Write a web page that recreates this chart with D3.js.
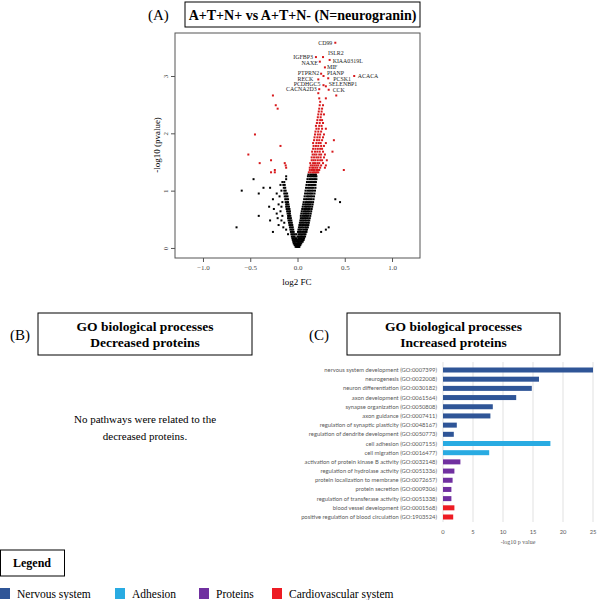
<!DOCTYPE html>
<html>
<head>
<meta charset="utf-8">
<script src="https://cdn.jsdelivr.net/npm/d3@7"></script>
<style>
  body { margin: 0; background: #fff; }
  svg { display: block; }
</style>
</head>
<body>
<div id="chart"></div>
<script>
// ---- volcano data (log2 FC, -log10 p) ----
// non-significant points, grouped by -log10 p row
const blackRows = [
  [0.02, [-0.02, -0.01, 0, 0.005, 0.01, 0.02, -0.005, 0.015]],
  [0.05, [-0.03, -0.02, -0.01, 0, 0.01, 0.02, 0.03, 0.015, -0.015]],
  [0.08, [-0.04, -0.025, -0.01, 0.005, 0.02, 0.03, 0.04, -0.035, 0.012]],
  [0.11, [-0.045, -0.03, -0.015, 0, 0.015, 0.03, 0.045, 0.055, 0.008]],
  [0.14, [-0.05, -0.035, -0.02, -0.005, 0.01, 0.025, 0.04, 0.055, 0.065]],
  [0.17, [-0.055, -0.04, -0.025, -0.01, 0.01, 0.03, 0.045, 0.06, 0.07, 0.02]],
  [0.20, [-0.06, -0.045, -0.03, 0, 0.015, 0.03, 0.05, 0.065, 0.08, 0.04]],
  [0.24, [-0.065, -0.05, -0.035, -0.015, 0.01, 0.025, 0.04, 0.055, 0.07, 0.085, -0.1]],
  [0.28, [-0.07, -0.055, -0.04, 0.005, 0.02, 0.035, 0.05, 0.065, 0.08, 0.095, 0.25, -0.26]],
  [0.32, [-0.075, -0.06, -0.045, 0.01, 0.025, 0.04, 0.06, 0.075, 0.09, 0.1, 0.3, -0.12]],
  [0.36, [-0.08, -0.065, -0.05, 0.015, 0.03, 0.045, 0.06, 0.08, 0.095, 0.11, -0.15, 0.33, -0.645]],
  [0.40, [-0.085, -0.07, -0.055, 0.02, 0.035, 0.05, 0.065, 0.08, 0.1, 0.115, -0.2]],
  [0.44, [-0.09, -0.075, -0.06, 0.025, 0.04, 0.055, 0.07, 0.09, 0.105, 0.12, -0.14]],
  [0.48, [-0.095, -0.08, -0.065, 0.03, 0.045, 0.06, 0.075, 0.09, 0.11, 0.125, -0.29, -0.17]],
  [0.52, [-0.1, -0.085, -0.07, 0.035, 0.05, 0.065, 0.08, 0.095, 0.11, 0.13, -0.21]],
  [0.56, [-0.1, -0.09, -0.075, 0.035, 0.055, 0.07, 0.085, 0.1, 0.115, 0.135, -0.41, -0.16]],
  [0.60, [-0.105, -0.09, -0.08, 0.04, 0.06, 0.075, 0.09, 0.105, 0.12, 0.14, -0.22]],
  [0.64, [-0.11, -0.095, -0.08, 0.045, 0.065, 0.08, 0.095, 0.11, 0.125, 0.145, -0.18]],
  [0.68, [-0.115, -0.1, -0.085, 0.05, 0.07, 0.085, 0.1, 0.115, 0.13, 0.15, -0.25]],
  [0.72, [-0.12, -0.105, -0.09, 0.055, 0.075, 0.09, 0.105, 0.12, 0.135, 0.155, -0.3, -0.17]],
  [0.76, [-0.12, -0.11, -0.095, 0.06, 0.08, 0.095, 0.11, 0.125, 0.14, 0.16, -0.2]],
  [0.80, [-0.125, -0.11, -0.1, 0.065, 0.085, 0.1, 0.115, 0.13, 0.145, 0.165, 0.45, -0.16]],
  [0.85, [-0.13, -0.115, -0.1, 0.07, 0.09, 0.105, 0.12, 0.135, 0.15, 0.17, -0.26, 0.4]],
  [0.90, [-0.135, -0.12, -0.105, 0.075, 0.095, 0.11, 0.125, 0.14, 0.155, 0.175, -0.19]],
  [0.95, [-0.14, -0.125, -0.11, 0.08, 0.1, 0.115, 0.13, 0.145, 0.16, 0.18, -0.22, -0.41]],
  [1.00, [-0.14, -0.125, 0.085, 0.105, 0.12, 0.135, 0.15, 0.165, 0.185, -0.59, -0.17]],
  [1.05, [-0.145, -0.13, 0.09, 0.11, 0.125, 0.14, 0.155, 0.17, 0.19, -0.29, -0.36]],
  [1.10, [-0.15, -0.135, 0.095, 0.115, 0.13, 0.145, 0.16, 0.175, 0.19, -0.18]],
  [1.15, [-0.14, 0.1, 0.12, 0.135, 0.15, 0.165, 0.18, 0.195, -0.16]],
  [1.20, [-0.12, 0.105, 0.125, 0.14, 0.155, 0.17, 0.185, 0.2, -0.465]],
  [1.25, [-0.12, 0.11, 0.13, 0.145, 0.16, 0.175, 0.19, 0.2]],
  [1.28, [0.115, 0.135, 0.15, 0.165, 0.18, 0.195]]
];

// significant points (p < 0.05)
const redRows = [
  [1.32, [0.12, 0.14, 0.16, 0.175, 0.19, 0.205, 0.22, -0.28, -0.24]],
  [1.36, [0.13, 0.15, 0.165, 0.18, 0.2, 0.215, 0.23, 0.49, -0.24]],
  [1.40, [0.13, 0.155, 0.17, 0.19, 0.21, 0.24, 0.29, -0.12]],
  [1.44, [0.14, 0.16, 0.18, 0.2, 0.22, 0.25, 0.3, -0.125]],
  [1.48, [0.135, 0.165, 0.185, 0.21, 0.23, 0.27, -0.40, -0.135]],
  [1.53, [0.15, 0.17, 0.19, 0.215, 0.24, 0.26, 0.31, -0.28]],
  [1.58, [0.15, 0.175, 0.2, 0.22, 0.245, 0.28]],
  [1.63, [0.16, 0.18, 0.2, 0.23, 0.25, 0.29, -0.52]],
  [1.68, [0.155, 0.185, 0.21, 0.235, 0.27, 0.37]],
  [1.73, [0.165, 0.19, 0.215, 0.24, 0.26]],
  [1.78, [0.17, 0.195, 0.22, 0.25, 0.28, -0.18]],
  [1.83, [0.165, 0.2, 0.225, 0.245, 0.3]],
  [1.88, [0.175, 0.205, 0.23, 0.26, 0.385]],
  [1.93, [0.18, 0.21, 0.235, 0.27]],
  [1.98, [0.185, 0.215, 0.24, 0.28, -0.45]],
  [2.03, [0.19, 0.22, 0.25]],
  [2.08, [0.2, 0.225, 0.26, 0.3]],
  [2.13, [0.195, 0.23, 0.255]],
  [2.18, [0.205, 0.235, 0.27]],
  [2.23, [0.21, 0.24, 0.26]],
  [2.28, [0.215, 0.245]],
  [2.33, [0.22, 0.25, 0.28]],
  [2.38, [0.225, 0.255]],
  [2.43, [0.23, 0.26, -0.21]],
  [2.49, [0.235, 0.27, -0.23]],
  [2.55, [0.24]],
  [2.61, [0.23, 0.3]],
  [2.66, [-0.26, 0.41]],
  [2.70, [0.22]]
];

// labelled proteins
const geneNames = ["CD99", "IGFBP3", "ISLR2", "KIAA0319L", "NAXE", "MIF", "PTPRN2", "PIANP",
  "RECK", "PCSK1", "ACACA", "PCDHGC5", "SELENBP1", "CACNA2D3", "CCK"];
const geneFC = [0.40, 0.195, 0.27, 0.34, 0.236, 0.29, 0.25, 0.275, 0.22, 0.325, 0.60, 0.275, 0.30, 0.23, 0.33];
const geneP = [3.58, 3.33, 3.33, 3.28, 3.25, 3.15, 3.04, 3.0, 2.94, 2.96, 3.0, 2.84, 2.82, 2.77, 2.76];

// label placement (pixels, relative to the point)
const labelNudge = [
  [-3, 2, "end"], [-3, 2, "end"], [5, -2.5, "start"], [3, 3, "start"], [-2, 3.5, "end"],
  [2, 1.8, "start"], [-2, 0.8, "end"], [3.5, -0.8, "start"], [-5, 1.8, "end"], [5, 3, "start"],
  [3.5, 2, "start"], [-3, 0.5, "end"], [3, -0.5, "start"], [-2.5, 2, "end"], [4, 2, "start"]
];

const xTicks = [-1.0, -0.5, 0.0, 0.5, 1.0];
const yTicks = [0, 1, 2, 3];

// ---- GO enrichment (increased proteins) ----
const goTerms = [
  "nervous system development (GO:0007399)",
  "neurogenesis (GO:0022008)",
  "neuron differentiation (GO:0030182)",
  "axon development (GO:0061564)",
  "synapse organization (GO:0050808)",
  "axon guidance (GO:0007411)",
  "regulation of synaptic plasticity (GO:0048167)",
  "regulation of dendrite development (GO:0050773)",
  "cell adhesion (GO:0007155)",
  "cell migration (GO:0016477)",
  "activation of protein kinase B activity (GO:0032148)",
  "regulation of hydrolase activity (GO:0051336)",
  "protein localization to membrane (GO:0072657)",
  "protein secretion (GO:0009306)",
  "regulation of transferase activity (GO:0051338)",
  "blood vessel development (GO:0001568)",
  "positive regulation of blood circulation (GO:1903524)"
];
const goValues = [25.0, 16.0, 14.8, 12.2, 8.3, 7.9, 2.3, 1.8, 17.9, 7.7, 2.9, 1.9, 1.6, 1.4, 1.4, 1.9, 1.7];
const goGroup = [0, 0, 0, 0, 0, 0, 0, 0, 1, 1, 2, 2, 2, 2, 2, 3, 3];
const goTicks = [0, 5, 10, 15, 20, 25];

const groupNames = ["Nervous system", "Adhesion", "Proteins", "Cardiovascular system"];
const groupColors = ["#2f5597", "#29abe2", "#7030a0", "#ed1c24"];

// ---- drawing ----
const svg = d3.select("#chart").append("svg")
  .attr("width", 600).attr("height", 600);

const serif = "'Liberation Serif', 'DejaVu Serif', serif";
const sans = "Lato, 'Open Sans', sans-serif";

function headerBox(x, y, w, h, lines, size) {
  svg.append("rect").attr("x", x).attr("y", y).attr("width", w).attr("height", h)
    .attr("fill", "none").attr("stroke", "#000").attr("stroke-width", 1);
  lines.forEach((t, i) => {
    svg.append("text").attr("x", x + w / 2).attr("y", y + h / 2 + 5 + (i - (lines.length - 1) / 2) * 16)
      .attr("text-anchor", "middle").attr("font-family", serif).attr("font-weight", "bold")
      .attr("font-size", size).text(t);
  });
}

// panel A
svg.append("text").attr("x", 148).attr("y", 20).attr("font-family", serif).attr("font-size", 15).text("(A)");
headerBox(185, 2, 235, 25, ["A+T+N+ vs A+T+N- (N=neurogranin)"], 14);

const vx = d3.scaleLinear().domain([-1.296, 1.296]).range([175, 420]);
const vy = d3.scaleLinear().domain([-0.175, 3.75]).range([258, 33]);

const volcano = svg.append("g");
volcano.append("rect").attr("x", 175).attr("y", 33).attr("width", 245).attr("height", 225)
  .attr("fill", "none").attr("stroke", "#555").attr("stroke-width", 1);

const xAxis = volcano.append("g").attr("transform", "translate(0,258)")
  .call(d3.axisBottom(vx).tickValues(xTicks).tickFormat(d3.format(".1f")).tickSize(4).tickSizeOuter(0));
const yAxis = volcano.append("g").attr("transform", "translate(175,0)")
  .call(d3.axisLeft(vy).tickValues(yTicks).tickFormat(d3.format("d")).tickSize(4).tickSizeOuter(0));
[xAxis, yAxis].forEach(a => {
  a.select(".domain").remove();
  a.selectAll("line").attr("stroke", "#555");
  a.selectAll("text").attr("font-family", serif).attr("font-size", 7).attr("fill", "#444");
});
yAxis.selectAll(".tick text").attr("transform", "rotate(-90)").attr("x", 0).attr("y", -7)
  .attr("dy", 0).attr("text-anchor", "middle");

volcano.append("text").attr("x", 297).attr("y", 285).attr("text-anchor", "middle")
  .attr("font-family", serif).attr("font-size", 9).text("log2 FC");
volcano.append("text").attr("transform", "translate(160,145) rotate(-90)").attr("text-anchor", "middle")
  .attr("font-family", serif).attr("font-size", 9).text("-log10 (pvalue)");

const blackPts = blackRows.flatMap(([p, xs]) => xs.map(fc => ({ fc, p })));
const redPts = redRows.flatMap(([p, xs]) => xs.map(fc => ({ fc, p })));
const genes = geneNames.map((g, i) => ({ g, fc: geneFC[i], p: geneP[i], nudge: labelNudge[i] }));

volcano.selectAll(".blk").data(blackPts).join("rect").attr("class", "blk")
  .attr("x", d => vx(d.fc) - 1).attr("y", d => vy(d.p) - 1).attr("width", 2).attr("height", 2)
  .attr("fill", "#000");
volcano.selectAll(".red").data(redPts.concat(genes)).join("rect").attr("class", "red")
  .attr("x", d => vx(d.fc) - 1).attr("y", d => vy(d.p) - 1).attr("width", 2).attr("height", 2)
  .attr("fill", "#d7191c");
volcano.selectAll(".lab").data(genes).join("text").attr("class", "lab")
  .attr("x", d => vx(d.fc) + d.nudge[0])
  .attr("y", d => vy(d.p) + d.nudge[1])
  .attr("text-anchor", d => d.nudge[2])
  .attr("font-family", serif).attr("font-size", 5.9).attr("fill", "#222").text(d => d.g);

// panel B
svg.append("text").attr("x", 10).attr("y", 340).attr("font-family", serif).attr("font-size", 15).text("(B)");
headerBox(38, 313, 214, 42, ["GO biological processes", "Decreased proteins"], 13.5);
svg.append("text").attr("x", 145).attr("y", 423).attr("text-anchor", "middle").attr("font-family", serif)
  .attr("font-size", 11).text("No pathways were related to the");
svg.append("text").attr("x", 145).attr("y", 440).attr("text-anchor", "middle").attr("font-family", serif)
  .attr("font-size", 11).text("decreased proteins.");

// panel C
svg.append("text").attr("x", 309).attr("y", 340).attr("font-family", serif).attr("font-size", 15).text("(C)");
headerBox(347, 313, 213, 42, ["GO biological processes", "Increased proteins"], 13.5);

const bx = d3.scaleLinear().domain([0, 25]).range([443, 593]);
const by = d3.scalePoint().domain(goTerms).range([370, 517]);

const bars = svg.append("g");
bars.selectAll(".grid").data(goTicks).join("line").attr("class", "grid")
  .attr("x1", d => bx(d)).attr("x2", d => bx(d)).attr("y1", 362).attr("y2", 522)
  .attr("stroke", "#d9d9d9").attr("stroke-width", 0.8);
bars.selectAll(".bar").data(goTerms).join("rect").attr("class", "bar")
  .attr("x", bx(0)).attr("y", d => by(d) - 2.5)
  .attr("width", (d, i) => bx(goValues[i]) - bx(0)).attr("height", 5)
  .attr("fill", (d, i) => groupColors[goGroup[i]]);
bars.selectAll(".term").data(goTerms).join("text").attr("class", "term")
  .attr("x", 437).attr("y", d => by(d) + 2).attr("text-anchor", "end")
  .attr("font-family", sans).attr("font-size", 5.8).attr("fill", "#595959").text(d => d);
bars.selectAll(".tk").data(goTicks).join("text").attr("class", "tk")
  .attr("x", d => bx(d)).attr("y", 534).attr("text-anchor", "middle")
  .attr("font-family", sans).attr("font-size", 5.8).attr("fill", "#595959").text(d => d);
bars.append("text").attr("x", 518).attr("y", 544).attr("text-anchor", "middle")
  .attr("font-family", serif).attr("font-size", 6).attr("fill", "#595959").text("-log10 p value");

// legend
svg.append("rect").attr("x", 0.5).attr("y", 550).attr("width", 64).attr("height", 26)
  .attr("fill", "none").attr("stroke", "#000").attr("stroke-width", 1);
svg.append("text").attr("x", 32).attr("y", 567).attr("text-anchor", "middle").attr("font-family", serif)
  .attr("font-weight", "bold").attr("font-size", 12).text("Legend");
const legX = [0, 115, 199, 272];
groupNames.forEach((n, i) => {
  svg.append("rect").attr("x", legX[i]).attr("y", 588).attr("width", 10).attr("height", 11)
    .attr("fill", groupColors[i]);
  svg.append("text").attr("x", legX[i] + 17).attr("y", 598).attr("font-family", serif)
    .attr("font-size", 11.5).text(n);
});
</script>
</body>
</html>
